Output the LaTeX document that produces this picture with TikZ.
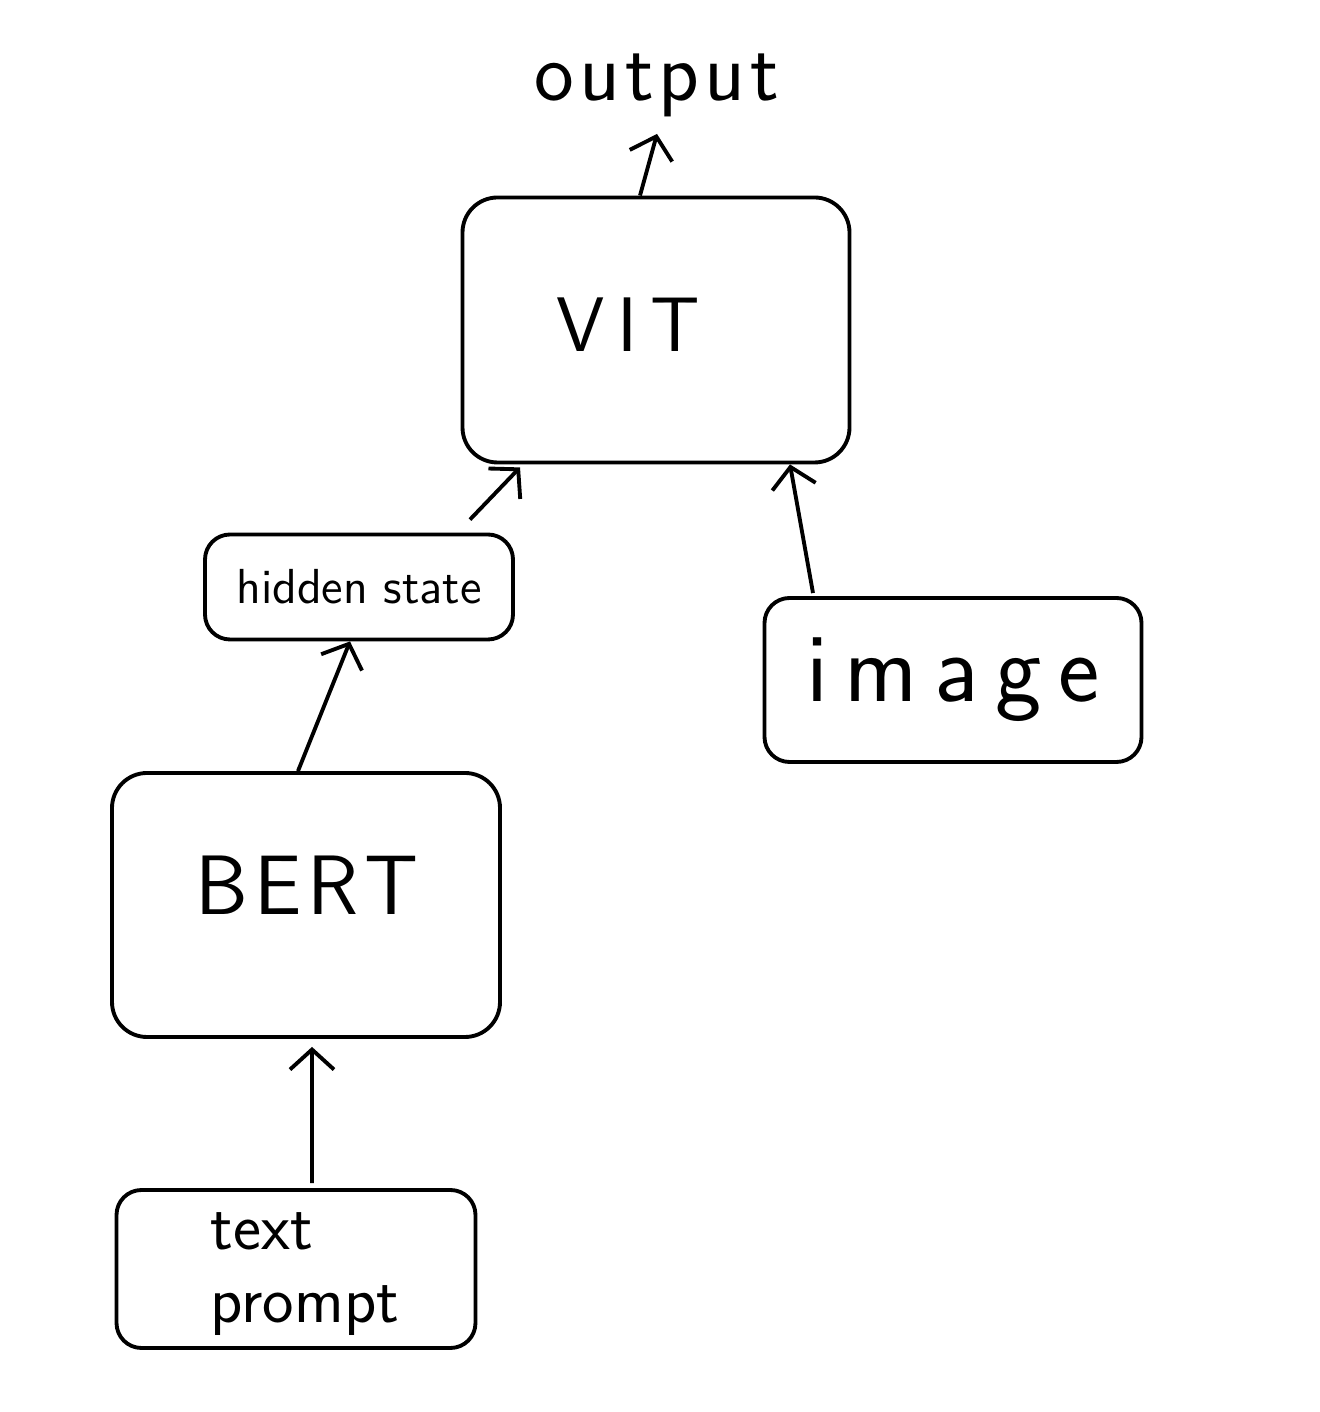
\documentclass[tikz,border=0pt]{standalone}
\usepackage{tikz}
\usetikzlibrary{
	arrows,shapes,positioning,calc
}
\tikzset{
	auto,
	bigblock/.style={
		rectangle, rounded corners=3.5mm, line width=1.1pt, draw=black,
		fill=white, inner sep=0pt
	},
	%
	smallblock/.style={
		rectangle, rounded corners=2.5mm, line width=1.1pt, draw=black,
		fill=white, inner sep=0pt
	},
	%
	flow/.style={
		->, line width=1.1pt, >={Straight Barb[length=2mm,width=4.4mm]}
	}
}
\usetikzlibrary{arrows.meta}

\begin{document}
\begin{tikzpicture}[font=\sffamily]
    \useasboundingbox (0,0) rectangle (13.2,14.12);
    \node(vit)[bigblock, minimum width=3.87cm, minimum height=2.65cm] at (6.56,10.82) {};
    \node at (6.28,10.87) {\fontsize{22}{26}\selectfont V\,I\,T};
    \node(out) at (6.57,13.27) {\fontsize{24}{28}\selectfont o\kern.06em u\kern.06em t\kern.06em p\kern.06em u\kern.06em t};
    \node(hid)[smallblock, minimum width=3.08cm, minimum height=1.05cm] at (3.59,8.25) {\fontsize{14}{17}\selectfont hidden state};
    \node(img)[smallblock, minimum width=3.77cm, minimum height=1.64cm] at (9.53,7.32) {\fontsize{28}{32}\selectfont i\,m\,a\,g\,e};
    \node(bert)[bigblock, minimum width=3.88cm, minimum height=2.64cm] at (3.06,5.07) {};
    \node at (3.07,5.27) {\fontsize{24}{28}\selectfont B\kern.07em E\kern.07em R\kern.07em T};
    \node(txt)[smallblock, minimum width=3.59cm, minimum height=1.58cm] at (2.96,1.43) {};
    \node[align=left, font=\sffamily\fontsize{19}{21}\selectfont] at (3.05,1.38) {text\\prompt};
    \draw[flow] ([xshift=-0.16cm]vit.north) -- ([yshift=-0.05cm]out.south);
    \draw[flow] ([xshift=1.11cm,yshift=0.13cm]hid.north) -- ([xshift=-1.36cm,yshift=-0.03cm]vit.south);
    \draw[flow] ([xshift=-1.4cm,yshift=0.03cm]img.north) -- ([xshift=1.34cm,yshift=0cm]vit.south);
    \draw[flow] ([xshift=-0.08cm]bert.north) -- ([xshift=-0.09cm]hid.south);
    \draw[flow] ([xshift=0.16cm,yshift=0.05cm]txt.north) -- ([xshift=0.06cm,yshift=-0.08cm]bert.south);
\end{tikzpicture}
\end{document}
